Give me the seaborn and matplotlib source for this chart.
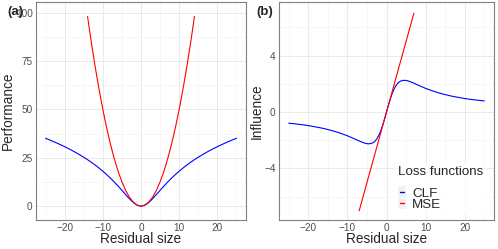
import matplotlib
matplotlib.use("Agg")
import matplotlib.pyplot as plt
import seaborn as sns
import pandas as pd
from matplotlib.legend_handler import HandlerBase
from matplotlib.patches import Rectangle
from matplotlib.lines import Line2D

# ---------------- data ----------------
clf_x = [-25, -24, -23, -22, -21, -20, -19, -18, -17, -16, -15, -14, -13, -12, -11, -10, -9, -8, -7, -6,
         -5.5, -5, -4.5, -4, -3.5, -3, -2.5, -2, -1.5, -1, -0.5, 0, 0.5, 1, 1.5, 2, 2.5, 3, 3.5, 4, 4.5,
         5, 5.5, 6, 7, 8, 9, 10, 11, 12, 13, 14, 15, 16, 17, 18, 19, 20, 21, 22, 23, 24, 25]
clf_perf = [35.05, 34.25, 33.42, 32.55, 31.65, 30.71, 29.72, 28.69, 27.60, 26.46, 25.25, 23.98, 22.63,
            21.19, 19.67, 18.04, 16.30, 14.44, 12.45, 10.34, 9.25, 8.14, 7.02, 5.90, 4.79, 3.72, 2.72,
            1.83, 1.07, 0.49, 0.12, 0, 0.12, 0.49, 1.07, 1.83, 2.72, 3.72, 4.79, 5.90, 7.02, 8.14, 9.25,
            10.34, 12.45, 14.44, 16.30, 18.04, 19.67, 21.19, 22.63, 23.98, 25.25, 26.46, 27.60, 28.69,
            29.72, 30.71, 31.65, 32.55, 33.42, 34.25, 35.05]
clf_infl = [-0.79, -0.82, -0.85, -0.88, -0.92, -0.96, -1.01, -1.06, -1.11, -1.17, -1.24, -1.31, -1.39,
            -1.48, -1.58, -1.68, -1.80, -1.92, -2.05, -2.16, -2.21, -2.24, -2.25, -2.23, -2.18, -2.08,
            -1.91, -1.67, -1.35, -0.95, -0.49, 0, 0.49, 0.95, 1.35, 1.67, 1.91, 2.08, 2.18, 2.23, 2.25,
            2.24, 2.21, 2.16, 2.05, 1.92, 1.80, 1.68, 1.58, 1.48, 1.39, 1.31, 1.24, 1.17, 1.11, 1.06,
            1.01, 0.96, 0.92, 0.88, 0.85, 0.82, 0.79]

mse_x = [-14, -13, -12, -11, -10, -9, -8, -7, -6, -5, -4, -3, -2, -1, 0,
         1, 2, 3, 4, 5, 6, 7, 8, 9, 10, 11, 12, 13, 14]
mse_perf = [98, 84.5, 72, 60.5, 50, 40.5, 32, 24.5, 18, 12.5, 8, 4.5, 2, 0.5, 0,
            0.5, 2, 4.5, 8, 12.5, 18, 24.5, 32, 40.5, 50, 60.5, 72, 84.5, 98]
mse_ix = [-7, -6, -5, -4, -3, -2, -1, 0, 1, 2, 3, 4, 5, 6, 7]
mse_infl = [-7, -6, -5, -4, -3, -2, -1, 0, 1, 2, 3, 4, 5, 6, 7]

loss_names = ["CLF", "MSE"]
loss_colors = {"CLF": "#0000FF", "MSE": "#FF0000"}
x_ticks = [-20, -10, 0, 10, 20]
perf_ticks = [0, 25, 50, 75, 100]
infl_ticks = [-4, 0, 4]

perf_df = pd.concat([
    pd.DataFrame({"x": clf_x, "y": clf_perf, "Loss": "CLF"}),
    pd.DataFrame({"x": mse_x, "y": mse_perf, "Loss": "MSE"}),
], ignore_index=True)
infl_df = pd.concat([
    pd.DataFrame({"x": clf_x, "y": clf_infl, "Loss": "CLF"}),
    pd.DataFrame({"x": mse_ix, "y": mse_infl, "Loss": "MSE"}),
], ignore_index=True)

# ---------------- style ----------------
sns.set_style("white")
plt.rcParams["font.family"] = ["Liberation Sans", "DejaVu Sans"]

W, H = 498, 249
fig = plt.figure(figsize=(W / 100, H / 100), dpi=100)

AX1 = (36, 246, 2, 220)
AX2 = (279, 494, 2, 220)

def px_axes(l, r, t, b):
    return fig.add_axes([l / W, 1 - b / H, (r - l) / W, (b - t) / H])

ax1 = px_axes(*AX1)
ax2 = px_axes(*AX2)

def style(ax, box, yticks, yminor, xlim, ylim, ylabel, ylab_x):
    l, r, t, b = box
    ax.set_xlim(*xlim)
    ax.set_ylim(*ylim)
    ax.set_xticks(x_ticks)
    ax.set_xticks([-25, -15, -5, 5, 15, 25], minor=True)
    ax.set_yticks(yticks)
    ax.set_yticks(yminor, minor=True)
    ax.grid(True, which="major", color="#E6E6E6", lw=0.6)
    ax.grid(True, which="minor", color="#F0F0F0", lw=0.4)
    ax.set_axisbelow(True)
    for s in ax.spines.values():
        s.set_color("#808080")
        s.set_linewidth(0.8)
        s.set_visible(True)
    ax.tick_params(axis="both", which="major", length=1.8, width=0.6, color="#808080",
                   labelsize=7.2, labelcolor="#4D4D4D", pad=0.6, direction="out")
    ax.tick_params(axis="both", which="minor", length=0)
    ax.set_xlabel("Residual size", fontsize=9.8)
    ax.xaxis.label.set_va("baseline")
    ax.xaxis.set_label_coords(0.5, (b - 243) / (b - t))
    ax.set_ylabel(ylabel, fontsize=9.8)
    ax.yaxis.label.set_va("center")
    ax.yaxis.set_label_coords((ylab_x - l) / (r - l), 0.5)

sns.lineplot(data=perf_df, x="x", y="y", hue="Loss", palette=loss_colors, sort=False,
             estimator=None, lw=0.8, legend=False, ax=ax1)
sns.lineplot(data=infl_df, x="x", y="y", hue="Loss", palette=loss_colors, sort=False,
             estimator=None, lw=0.8, legend=False, ax=ax2)

style(ax1, AX1, perf_ticks, [12.5, 37.5, 62.5, 87.5], (-27.5, 27.5), (-7.2, 105.5), "Performance", 8)
style(ax2, AX2, infl_ticks, [-6, -2, 2, 6], (-27.5, 27.5), (-7.65, 7.8), "Influence", 256.5)

fig.text(15 / W, 1 - 12 / H, "(a)", fontsize=9.5, fontweight="bold", ha="center", va="center")
fig.text(265 / W, 1 - 12 / H, "(b)", fontsize=9.5, fontweight="bold", ha="center", va="center")

class KeyHandler(HandlerBase):
    def create_artists(self, legend, orig_handle, xdescent, ydescent, width, height, fontsize, trans):
        rect = Rectangle((-xdescent, -ydescent), width, height, facecolor="#F2F2F2",
                         edgecolor="none", transform=trans)
        cx = -xdescent + width / 2
        cy = -ydescent + height / 2
        line = Line2D([cx - width * 0.25, cx + width * 0.25], [cy, cy],
                      color=orig_handle.get_color(), lw=1.0, transform=trans)
        return [rect, line]

handles = [Line2D([], [], color=loss_colors[n]) for n in loss_names]
leg = ax2.legend(handles, loss_names, title="Loss functions", loc="lower left",
                 bbox_to_anchor=(395 / W, 1 - 214 / H), bbox_transform=fig.transFigure,
                 fontsize=9.6, title_fontsize=9.6, frameon=True, fancybox=False,
                 handlelength=0.6, handleheight=0.9, labelspacing=-0.15, handletextpad=0.45,
                 borderpad=0.25, borderaxespad=0, alignment="left",
                 handler_map={Line2D: KeyHandler()})
leg._legend_box.sep = 6
leg.get_frame().set_facecolor("white")
leg.get_frame().set_edgecolor("none")

fig.savefig("out.png", dpi=100)
